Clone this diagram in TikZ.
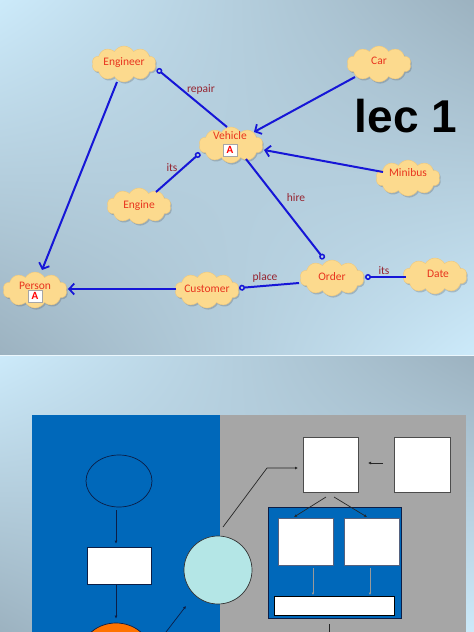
\documentclass[tikz,border=0pt]{standalone}
\usepackage{fontspec}
\setmainfont{Carlito}
\newfontfamily\lecfont{Liberation Sans}
\usetikzlibrary{shapes.symbols,shapes.geometric,arrows.meta,shadows,shadings,calc}
\definecolor{bgLight}{RGB}{204,234,250}
\definecolor{bgDark}{RGB}{156,178,192}
\definecolor{lineblue}{RGB}{22,22,215}
\definecolor{nodered}{RGB}{232,52,30}
\definecolor{lblred}{RGB}{150,36,48}
\definecolor{cloudfill}{RGB}{252,218,142}
\definecolor{cloudedge}{RGB}{238,200,125}
\definecolor{panelblue}{RGB}{0,104,186}
\definecolor{panelgray}{RGB}{166,166,166}
\definecolor{navy}{RGB}{12,30,70}
\definecolor{cyanfill}{RGB}{180,230,230}
\begin{document}
\begin{tikzpicture}[x=1pt,y=-1pt,
  cloudn/.style={cloud, cloud puffs=10, cloud puff arc=120, aspect=1.8,
    fill=cloudfill, draw=cloudedge, line width=0.4pt,
    minimum width=64pt, minimum height=36pt, inner sep=0pt,
    drop shadow={shadow xshift=1.2pt, shadow yshift=-1.6pt, opacity=0.25, fill=black!70}},
  ntext/.style={text=nodered, font=\fontsize{11.5}{13}\selectfont, inner sep=0pt},
  lbl/.style={text=lblred, font=\fontsize{11.5}{13}\selectfont, inner sep=0pt},
  abox/.style={draw=gray!70, fill=white, minimum width=14pt, minimum height=12pt,
    inner sep=0pt, text=red, font=\bfseries\fontsize{11}{11}\selectfont},
  gen/.style={draw=lineblue, line width=2pt,
    -{Straight Barb[length=5pt, width=11pt, line width=1.8pt]}},
  assocS/.style={draw=lineblue, line width=2pt,
    {Circle[open, length=6pt, width=6pt, line width=1.5pt]}-},
  assocE/.style={draw=lineblue, line width=2pt,
    -{Circle[open, length=6pt, width=6pt, line width=1.5pt]}},
  thinarr/.style={draw=navy, line width=0.7pt, -{Latex[length=3pt, width=3pt]}},
  grayarr/.style={draw=gray!80, line width=0.6pt, -{Latex[length=2.5pt, width=2.5pt]}},
  whitebox/.style={draw=gray!60!black, fill=white, line width=0.6pt, inner sep=0pt}
]
\useasboundingbox (0,0) rectangle (474,632);
% ---------- backgrounds ----------
\shade[upper left=bgLight, upper right=bgDark, lower left=bgDark, lower right=bgLight]
  (0,0) rectangle (474,355);
\shade[upper left=bgLight, upper right=bgDark, lower left=bgDark, lower right=bgLight]
  (0,356) rectangle (474,632);
\draw[white!60!bgLight, line width=0.8pt] (0,355.5) -- (474,355.5);

% ---------- top slide: clouds ----------
\node[cloudn] (eng) at (124,64) {};
\node[cloudn] (car) at (379,64) {};
\node[cloudn] (veh) at (231,145) {};
\node[cloudn] (minib) at (408,178) {};
\node[cloudn] (engn) at (139,206) {};
\node[cloudn] (pers) at (35,290) {};
\node[cloudn] (cust) at (207,290) {};
\node[cloudn] (ord) at (332,278) {};
\node[cloudn] (date) at (435,276) {};

\node[ntext] (tEng) at (124,63) {Engineer};
\node[ntext] (tCar) at (379,61) {Car};
\node[ntext] (tVeh) at (230,136) {Vehicle};
\node[abox] (aVeh) at (230,150) {A};
\node[ntext] (tMin) at (408,173) {Minibus};
\node[ntext] (tEngn) at (139,206) {Engine};
\node[ntext] (tPers) at (35,286) {Person};
\node[abox] (aPers) at (35,296) {A};
\node[ntext] (tCust) at (207,289) {Customer};
\node[ntext] (tOrd) at (332,277) {Order};
\node[ntext] (tDate) at (438,274) {Date};

\node[font=\lecfont\bfseries\fontsize{46}{46}\selectfont, inner sep=0pt] (lec) at (406,116) {lec 1};

% ---------- top slide: connectors ----------
\draw[gen] ($(eng)+(-7,18)$) -- ($(pers)+(7,-20)$);
\draw[assocS] ($(eng)+(33,5)$) -- ($(veh)+(-4,-18)$);
\draw[gen] ($(car)+(-24,13)$) -- ($(veh)+(23,-13)$);
\draw[gen] ($(minib)+(-25,-6)$) -- ($(veh)+(33,5)$);
\draw[assocS] ($(veh)+(-31,8)$) -- ($(engn)+(17,-14)$);
\draw[assocE] ($(veh)+(15,14)$) -- ($(ord)+(-8,-19)$);
\draw[gen] ($(cust)+(-31,-1)$) -- ($(pers)+(33,-1)$);
\draw[assocS] ($(cust)+(32,-2)$) -- ($(ord)+(-33,5)$);
\draw[assocS] ($(ord)+(33,-1)$) -- ($(date)+(-29,1)$);

\node[lbl] (lRepair) at (201,89) {repair};
\node[lbl] (lIts1) at (172,168) {its};
\node[lbl] (lHire) at (296,198) {hire};
\node[lbl] (lPlace) at (265,277) {place};
\node[lbl] (lIts2) at (384,271) {its};

% ---------- bottom slide ----------
\fill[panelblue] (32,415) rectangle (220,632);
\fill[panelgray] (220,415) rectangle (466,632);

\node[ellipse, draw=navy, line width=0.7pt, minimum width=66pt, minimum height=52pt, inner sep=0pt] (e1) at (119,481) {};
\node[whitebox, draw=navy, minimum width=64pt, minimum height=37pt] (r1) at (119,565.5) {};
\node[ellipse, draw=navy, fill=orange!90!red, line width=0.7pt, minimum width=68pt, minimum height=58pt, inner sep=0pt] (oe) at (116,652) {};
\node[circle, draw=gray!40!black, fill=cyanfill, line width=0.7pt, minimum size=68pt, inner sep=0pt] (circ) at (218,570) {};

\draw[thinarr] ([xshift=-3pt,yshift=-3pt]e1.south) -- ([xshift=-3pt,yshift=3pt]r1.north);
\draw[thinarr] ([xshift=-3pt]r1.south) -- ([yshift=4pt]oe.north);
\draw[thinarr] ($(oe)+(50,-20)$) -- ($(circ)+(-32,36)$);

\node[whitebox, minimum width=55pt, minimum height=55pt] (sq1) at (330.5,464.5) {};
\node[whitebox, minimum width=56pt, minimum height=55pt] (sq2) at (422,464.5) {};
\coordinate (bend) at (267,468);
\draw[thinarr, draw=black!85] ($(circ)+(5,-43)$) -- (bend) -- ($(sq1)+(-32.5,3.5)$);
\draw[thinarr, draw=black!85] ($(sq2)+(-39,-1.5)$) -- ($(sq1)+(37.5,-1.5)$);

\node[draw=navy, fill=panelblue, line width=0.8pt, minimum width=133pt, minimum height=111pt, inner sep=0pt] (inner) at (334.5,562.5) {};
\node[whitebox, draw=navy!70, minimum width=55pt, minimum height=47pt] (bA) at (305.5,541.5) {};
\node[whitebox, draw=navy!70, minimum width=55pt, minimum height=47pt] (bB) at (371.5,541.5) {};
\node[whitebox, draw=black, minimum width=120pt, minimum height=19pt] (bar) at (334,605.5) {};

\draw[thinarr, draw=black!85] ($(sq1)+(-4.5,32.5)$) -- ($(bA)+(-11.5,-24.5)$);
\draw[thinarr, draw=black!85] ($(sq1)+(3.5,32.5)$) -- ($(bB)+(-4.5,-24.5)$);
\draw[grayarr] ($(bA)+(7.5,26.5)$) -- ($(bar)+(-21,-10.5)$);
\draw[grayarr] ($(bB)+(-1.5,26.5)$) -- ($(bar)+(36,-10.5)$);
\coordinate (downend) at (329,632);
\draw[black!85, line width=0.7pt] ($(inner)+(-5.5,61.5)$) -- (downend);
\end{tikzpicture}
\end{document}
